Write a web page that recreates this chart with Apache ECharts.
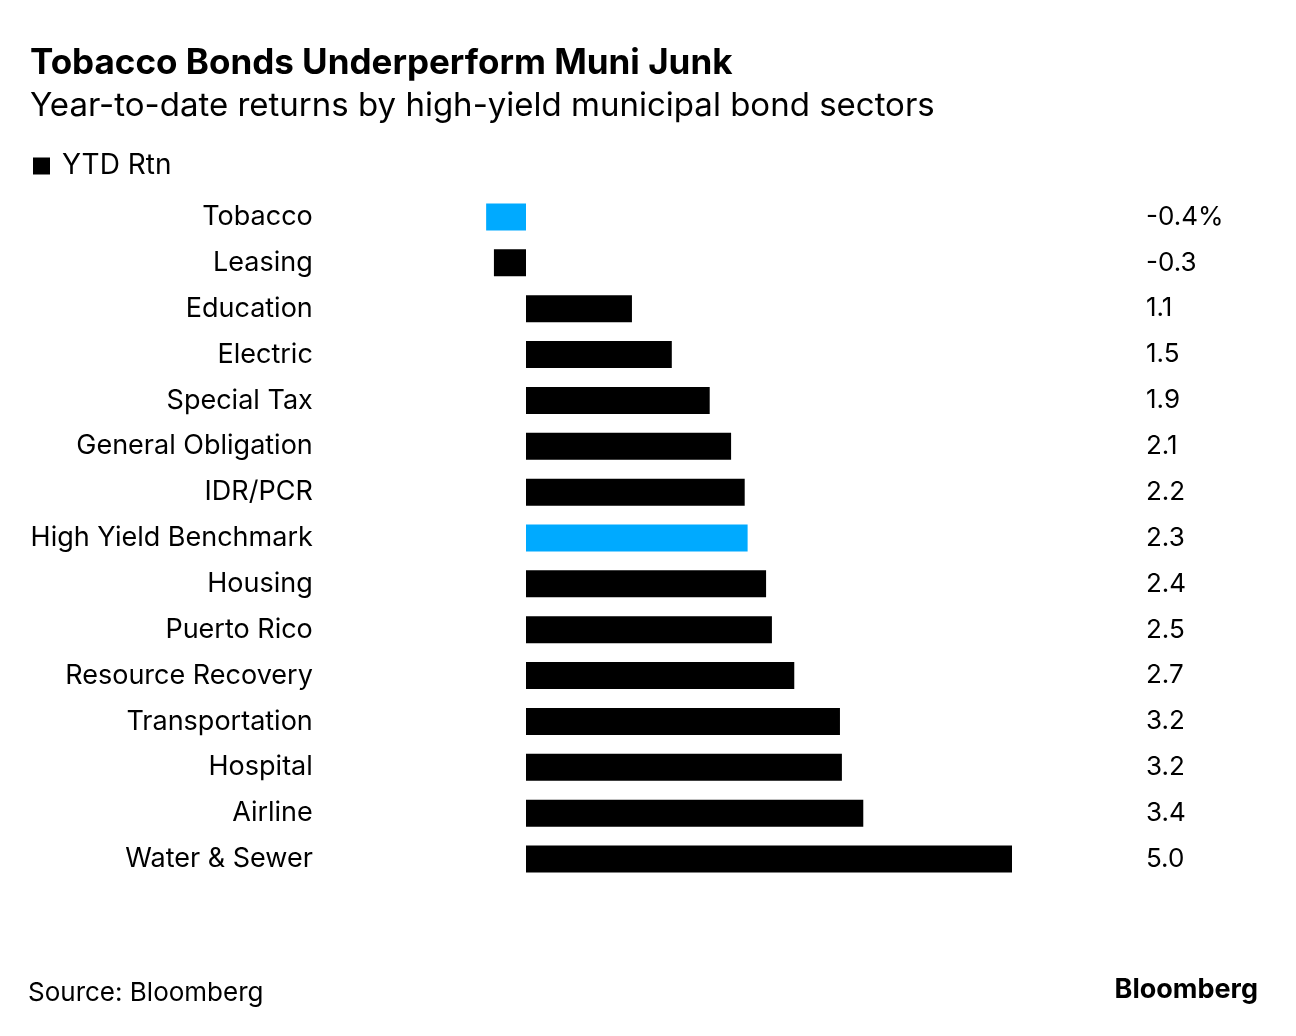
<!DOCTYPE html>
<html>
<head>
<meta charset="utf-8">
<script src="https://cdn.jsdelivr.net/npm/echarts@6/dist/echarts.min.js"></script>
<style>
  html, body { margin: 0; padding: 0; background: #fff; }
  #chart { width: 1296px; height: 1036px; }
</style>
</head>
<body>
<div id="chart"></div>
<script>
// 数据
const sectors = [
  'Tobacco', 'Leasing', 'Education', 'Electric', 'Special Tax',
  'General Obligation', 'IDR/PCR', 'High Yield Benchmark', 'Housing',
  'Puerto Rico', 'Resource Recovery', 'Transportation', 'Hospital',
  'Airline', 'Water & Sewer'
]
const ytdReturns = [
  -0.41, -0.33, 1.09, 1.50, 1.89, 2.11, 2.25, 2.28, 2.47,
  2.53, 2.76, 3.23, 3.25, 3.47, 5.0
]
const returnLabels = [
  '-0.4%', '-0.3', '1.1', '1.5', '1.9', '2.1', '2.2', '2.3', '2.4',
  '2.5', '2.7', '3.2', '3.2', '3.4', '5.0'
]
const highlighted = ['Tobacco', 'High Yield Benchmark']

const FONT = 'Inter, "Liberation Sans", Arial, sans-serif'
const BLUE = '#00aaff'

const chart = echarts.init(document.getElementById('chart'))

const option = {
  backgroundColor: '#fff',
  animation: false,
  title: {
    text: 'Tobacco Bonds Underperform Muni Junk',
    subtext: 'Year-to-date returns by high-yield municipal bond sectors',
    left: 25,
    top: 41,
    itemGap: 9,
    textStyle: { fontFamily: FONT, fontSize: 35, fontWeight: 'bold', color: '#000' },
    subtextStyle: { fontFamily: FONT, fontSize: 33, color: '#000' }
  },
  legend: {
    left: 28,
    top: 147,
    icon: 'rect',
    itemWidth: 17,
    itemHeight: 17,
    itemGap: 12,
    textStyle: { fontFamily: FONT, fontSize: 28, color: '#000', padding: [0, 0, 0, 7] },
    data: ['YTD Rtn']
  },
  grid: {
    left: 428.8,
    right: 284,
    top: 194,
    bottom: 154,
    containLabel: false
  },
  xAxis: {
    type: 'value',
    min: -1,
    max: 5,
    show: false
  },
  yAxis: [
    {
      type: 'category',
      inverse: true,
      data: sectors,
      axisLine: { show: false },
      axisTick: { show: false },
      splitLine: { show: false },
      axisLabel: {
        margin: 116,
        fontFamily: FONT,
        fontSize: 27,
        color: '#000'
      }
    },
    {
      type: 'category',
      inverse: true,
      position: 'right',
      data: returnLabels,
      axisLine: { show: false },
      axisTick: { show: false },
      splitLine: { show: false },
      axisLabel: {
        margin: 134,
        align: 'left',
        fontFamily: FONT,
        fontSize: 26,
        color: '#000'
      }
    }
  ],
  series: [
    {
      name: 'YTD Rtn',
      type: 'bar',
      barWidth: 27,
      itemStyle: { color: '#000' },
      data: ytdReturns.map((v, i) => ({
        value: v,
        itemStyle: { color: highlighted.includes(sectors[i]) ? BLUE : '#000' }
      }))
    }
  ],
  graphic: [
    {
      type: 'text',
      left: 28,
      top: 980,
      style: { text: 'Source: Bloomberg', font: '26px ' + FONT, fill: '#000' }
    },
    {
      type: 'text',
      right: 38,
      top: 976,
      style: { text: 'Bloomberg', font: 'bold 27px ' + FONT, fill: '#000' }
    }
  ]
}

chart.setOption(option)
</script>
</body>
</html>
